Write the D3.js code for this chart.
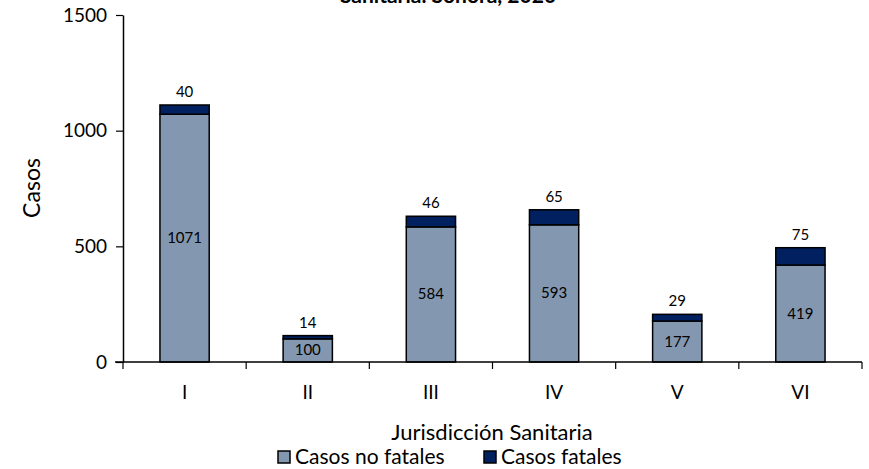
<!DOCTYPE html>
<html>
<head>
<meta charset="utf-8">
<script src="https://cdn.jsdelivr.net/npm/d3@7"></script>
<style>
  body { margin: 0; background: #fff; }
  svg { display: block; font-family: Lato, "Open Sans", sans-serif; }
</style>
</head>
<body>
<svg id="chart" width="869" height="469"></svg>
<script>
// data
const jurisdicciones = ["I", "II", "III", "IV", "V", "VI"];
const noFatales = [1071, 100, 584, 593, 177, 419];
const fatales = [40, 14, 46, 65, 29, 75];
const yTicks = [0, 500, 1000, 1500];

const width = 869, height = 469;
const margin = { left: 123, right: 7, top: 15, bottom: 106 };
const colorNoFatal = "#8497b0";
const colorFatal = "#002060";

const svg = d3.select("#chart");

const x = d3.scaleBand()
  .domain(jurisdicciones)
  .range([margin.left, width - margin.right]);

const y = d3.scaleLinear()
  .domain([0, 1500])
  .range([height - margin.bottom - 1, margin.top]);

// title (only its last line is inside the picture)
svg.append("text")
  .attr("x", 448)
  .attr("y", 3)
  .attr("text-anchor", "middle")
  .style("font-weight", "bold")
  .style("font-size", "21px")
  .text("Sanitaria. Sonora, 2020");

// stacked rows
const rows = jurisdicciones.map((j, i) => ({ j: j, nf: noFatales[i], f: fatales[i] }));
const barW = x.bandwidth() * 0.4;

const g = svg.append("g");

g.selectAll("rect.nf")
  .data(rows)
  .enter()
  .append("rect")
  .attr("x", d => x(d.j) + (x.bandwidth() - barW) / 2)
  .attr("y", d => y(d.nf))
  .attr("width", barW)
  .attr("height", d => y(0) - y(d.nf))
  .attr("fill", colorNoFatal)
  .attr("stroke", "#000")
  .attr("stroke-width", 1.5);

g.selectAll("rect.f")
  .data(rows)
  .enter()
  .append("rect")
  .attr("x", d => x(d.j) + (x.bandwidth() - barW) / 2)
  .attr("y", d => y(d.nf + d.f))
  .attr("width", barW)
  .attr("height", d => y(d.nf) - y(d.nf + d.f))
  .attr("fill", colorFatal)
  .attr("stroke", "#000")
  .attr("stroke-width", 1.5);

// value labels
g.selectAll("text.nf")
  .data(rows)
  .enter()
  .append("text")
  .attr("x", d => x(d.j) + x.bandwidth() / 2)
  .attr("y", d => (y(0) + y(d.nf)) / 2 + 5)
  .attr("text-anchor", "middle")
  .style("font-size", "15px")
  .text(d => d.nf);

g.selectAll("text.f")
  .data(rows)
  .enter()
  .append("text")
  .attr("x", d => x(d.j) + x.bandwidth() / 2)
  .attr("y", d => y(d.nf + d.f) - 8)
  .attr("text-anchor", "middle")
  .style("font-size", "15px")
  .text(d => d.f);

// y axis
const yAxis = svg.append("g")
  .attr("transform", "translate(" + margin.left + ",0)")
  .call(d3.axisLeft(y).tickValues(yTicks).tickFormat(d3.format("d"))
    .tickSize(7).tickPadding(9).tickSizeOuter(0));
yAxis.select(".domain").attr("stroke-width", 1.5);
yAxis.selectAll(".tick line").attr("stroke-width", 1.2);
yAxis.selectAll("text").style("font-size", "19px").attr("fill", "#000").style("font-family", "Lato, sans-serif");

// x axis with ticks between categories
const xAxis = svg.append("g")
  .attr("transform", "translate(0," + y(0) + ")");
xAxis.append("line")
  .attr("x1", margin.left - 8)
  .attr("x2", width - margin.right)
  .attr("stroke", "#000")
  .attr("stroke-width", 1.5);
xAxis.selectAll("line.tk")
  .data(jurisdicciones)
  .enter()
  .append("line")
  .attr("x1", d => x(d) + x.bandwidth())
  .attr("x2", d => x(d) + x.bandwidth())
  .attr("y1", 0)
  .attr("y2", 7)
  .attr("stroke", "#000")
  .attr("stroke-width", 1.2);
xAxis.append("line")
  .attr("x1", margin.left).attr("x2", margin.left)
  .attr("y1", 0).attr("y2", 7)
  .attr("stroke", "#000").attr("stroke-width", 1.2);
xAxis.selectAll("text")
  .data(jurisdicciones)
  .enter()
  .append("text")
  .attr("x", d => x(d) + x.bandwidth() / 2)
  .attr("y", 37)
  .attr("text-anchor", "middle")
  .style("font-size", "19px")
  .text(d => d);

// axis titles
svg.append("text")
  .attr("transform", "translate(40,188) rotate(-90)")
  .attr("text-anchor", "middle")
  .style("font-size", "23px")
  .text("Casos");

svg.append("text")
  .attr("x", 492)
  .attr("y", 440)
  .attr("text-anchor", "middle")
  .style("font-size", "22px")
  .text("Jurisdicción Sanitaria");

// legend
const legendItems = [
  { label: "Casos no fatales", color: colorNoFatal, x: 278 },
  { label: "Casos fatales", color: colorFatal, x: 484 }
];
const lg = svg.selectAll("g.legend")
  .data(legendItems)
  .enter()
  .append("g")
  .attr("transform", d => "translate(" + d.x + ",451)");
lg.append("rect")
  .attr("width", 12)
  .attr("height", 12)
  .attr("fill", d => d.color)
  .attr("stroke", "#000")
  .attr("stroke-width", 1.5);
lg.append("text")
  .attr("x", 17)
  .attr("y", 13)
  .style("font-size", "21px")
  .text(d => d.label);
</script>
</body>
</html>
